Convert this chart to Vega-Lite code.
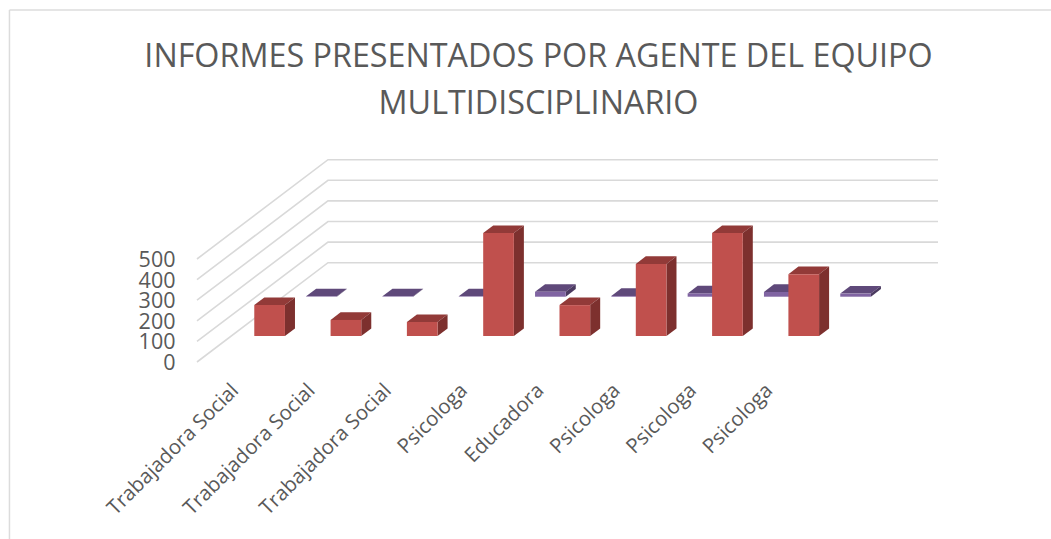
{"$schema":"https://vega.github.io/schema/vega-lite/v6.json","width":1051,"height":539,"autosize":"none","padding":0,"background":"white","config":{"view":{"stroke":null}},
"title":{"text":["INFORMES PRESENTADOS POR AGENTE DEL EQUIPO","MULTIDISCIPLINARIO"],"anchor":"middle","frame":"group","font":"Open Sans","fontSize":32.3,"fontWeight":"normal","color":"#595959","baseline":"alphabetic","offset":0,"dy":146,"dx":13,"lineHeight":47},
"resolve":{"axis":{"x":"independent","y":"independent"}},
"data":{"values":[
{"agente":"Trabajadora Social","orden":0,"serie":"Serie 1","informes":150},
{"agente":"Trabajadora Social","orden":1,"serie":"Serie 1","informes":78},
{"agente":"Trabajadora Social","orden":2,"serie":"Serie 1","informes":68},
{"agente":"Psicologa","orden":3,"serie":"Serie 1","informes":500},
{"agente":"Educadora","orden":4,"serie":"Serie 1","informes":150},
{"agente":"Psicologa","orden":5,"serie":"Serie 1","informes":350},
{"agente":"Psicologa","orden":6,"serie":"Serie 1","informes":500},
{"agente":"Psicologa","orden":7,"serie":"Serie 1","informes":300},
{"agente":"Trabajadora Social","orden":0,"serie":"Serie 2","informes":2},
{"agente":"Trabajadora Social","orden":1,"serie":"Serie 2","informes":2},
{"agente":"Trabajadora Social","orden":2,"serie":"Serie 2","informes":2},
{"agente":"Psicologa","orden":3,"serie":"Serie 2","informes":24},
{"agente":"Educadora","orden":4,"serie":"Serie 2","informes":4},
{"agente":"Psicologa","orden":5,"serie":"Serie 2","informes":16},
{"agente":"Psicologa","orden":6,"serie":"Serie 2","informes":23},
{"agente":"Psicologa","orden":7,"serie":"Serie 2","informes":15}
]},
"transform":[
{"calculate":"datum.serie==='Serie 1'?0.2618:0.6576","as":"prof"},
{"calculate":"datum.orden+datum.prof*1.717","as":"x0"},
{"calculate":"datum.x0+0.402","as":"x1"},
{"calculate":"datum.prof*482","as":"base"},
{"calculate":"datum.base+datum.informes","as":"tope"},
{"calculate":"[datum.x0,datum.x0+0.1313,datum.x1,datum.x1+0.1313]","as":"tx"},
{"calculate":"[datum.tope,datum.tope,datum.tope,datum.tope+36.9]","as":"tlo"},
{"calculate":"[datum.tope,datum.tope+36.9,datum.tope+36.9,datum.tope+36.9]","as":"tup"},
{"calculate":"[datum.x1,datum.x1+0.1313]","as":"sx"},
{"calculate":"[datum.tope,datum.tope+36.9]","as":"sup"},
{"calculate":"[datum.base,datum.base+36.9]","as":"slo"}
],
"layer":[
{"data":{"values":[{"eje":"izquierdo"}]},"transform":[],"mark":{"type":"rule","color":"#DCDCDC","strokeWidth":1.5},"encoding":{"x":{"datum":-2.759,"type":"quantitative","scale":{"domain":[-2.883,10.891],"range":[0,1051],"nice":false,"zero":false},"axis":null},"y":{"datum":1708.7,"type":"quantitative","scale":{"domain":[-859.2,1757.3],"range":[539,0],"nice":false,"zero":false},"axis":null},"y2":{"datum":-859.2}}},
{"data":{"values":[{"eje":"superior"}]},"transform":[],"mark":{"type":"rule","color":"#DCDCDC","strokeWidth":1.5},"encoding":{"x":{"datum":-2.759,"type":"quantitative","axis":null},"x2":{"datum":10.891},"y":{"datum":1708.7,"type":"quantitative","axis":null}}},
{"data":{"values":[{"nivel":0},{"nivel":100},{"nivel":200},{"nivel":300},{"nivel":400},{"nivel":500}]},
"transform":[{"calculate":"[-0.3014,1.4155,9.41]","as":"gx"},{"calculate":"[datum.nivel,datum.nivel+482,datum.nivel+482]","as":"gy"},{"flatten":["gx","gy"]}],
"mark":{"type":"line","color":"#D9D9D9","strokeWidth":1.6,"interpolate":"linear"},
"encoding":{"detail":{"field":"nivel"},"order":{"field":"gx","type":"quantitative"},
"x":{"field":"gx","type":"quantitative","axis":{"title":null,"orient":"bottom","offset":-152,"values":[0,1,2,3,4,5,6,7],"labelExpr":"['Trabajadora Social','Trabajadora Social','Trabajadora Social','Psicologa','Educadora','Psicologa','Psicologa','Psicologa'][datum.value]","labelAngle":-45,"labelAlign":"right","labelBaseline":"middle","labelOffset":15,"labelPadding":0,"tickSize":0,"domain":false,"grid":false,"labelFont":"Open Sans","labelFontSize":20.4,"labelColor":"#595959","labelOverlap":false,"labelBound":false,"labelFlush":false}},
"y":{"field":"gy","type":"quantitative","axis":{"title":null,"orient":"left","offset":-175,"values":[0,100,200,300,400,500],"labelPadding":0,"labelOffset":1.5,"tickSize":0,"domain":false,"grid":false,"labelFont":"Open Sans","labelFontSize":21.5,"labelColor":"#595959","labelOverlap":false,"labelBound":false,"labelFlush":false}}}},
{"transform":[{"filter":"datum.serie==='Serie 2'"},{"flatten":["tx","tlo","tup"]}],"mark":{"type":"area","color":"#5F497A","orient":"vertical"},"encoding":{"detail":{"field":"orden","type":"nominal"},"x":{"field":"tx","type":"quantitative","axis":null},"y":{"field":"tlo","type":"quantitative","axis":null,"stack":null},"y2":{"field":"tup"}}},
{"transform":[{"filter":"datum.serie==='Serie 2'"},{"flatten":["sx","sup","slo"]}],"mark":{"type":"area","color":"#4B3A60","orient":"vertical"},"encoding":{"detail":{"field":"orden","type":"nominal"},"x":{"field":"sx","type":"quantitative","axis":null},"y":{"field":"sup","type":"quantitative","axis":null,"stack":null},"y2":{"field":"slo"}}},
{"transform":[{"filter":"datum.serie==='Serie 2'"}],"mark":{"type":"rect","color":"#8064A2"},"encoding":{"x":{"field":"x0","type":"quantitative","axis":null},"x2":{"field":"x1"},"y":{"field":"tope","type":"quantitative","axis":null},"y2":{"field":"base"}}},
{"transform":[{"filter":"datum.serie==='Serie 1'"},{"flatten":["tx","tlo","tup"]}],"mark":{"type":"area","color":"#923A38","orient":"vertical"},"encoding":{"detail":{"field":"orden","type":"nominal"},"x":{"field":"tx","type":"quantitative","axis":null},"y":{"field":"tlo","type":"quantitative","axis":null,"stack":null},"y2":{"field":"tup"}}},
{"transform":[{"filter":"datum.serie==='Serie 1'"},{"flatten":["sx","sup","slo"]}],"mark":{"type":"area","color":"#7D302E","orient":"vertical"},"encoding":{"detail":{"field":"orden","type":"nominal"},"x":{"field":"sx","type":"quantitative","axis":null},"y":{"field":"sup","type":"quantitative","axis":null,"stack":null},"y2":{"field":"slo"}}},
{"transform":[{"filter":"datum.serie==='Serie 1'"}],"mark":{"type":"rect","color":"#C0504D"},"encoding":{"x":{"field":"x0","type":"quantitative","axis":null},"x2":{"field":"x1"},"y":{"field":"tope","type":"quantitative","axis":null},"y2":{"field":"base"}}}
]}
